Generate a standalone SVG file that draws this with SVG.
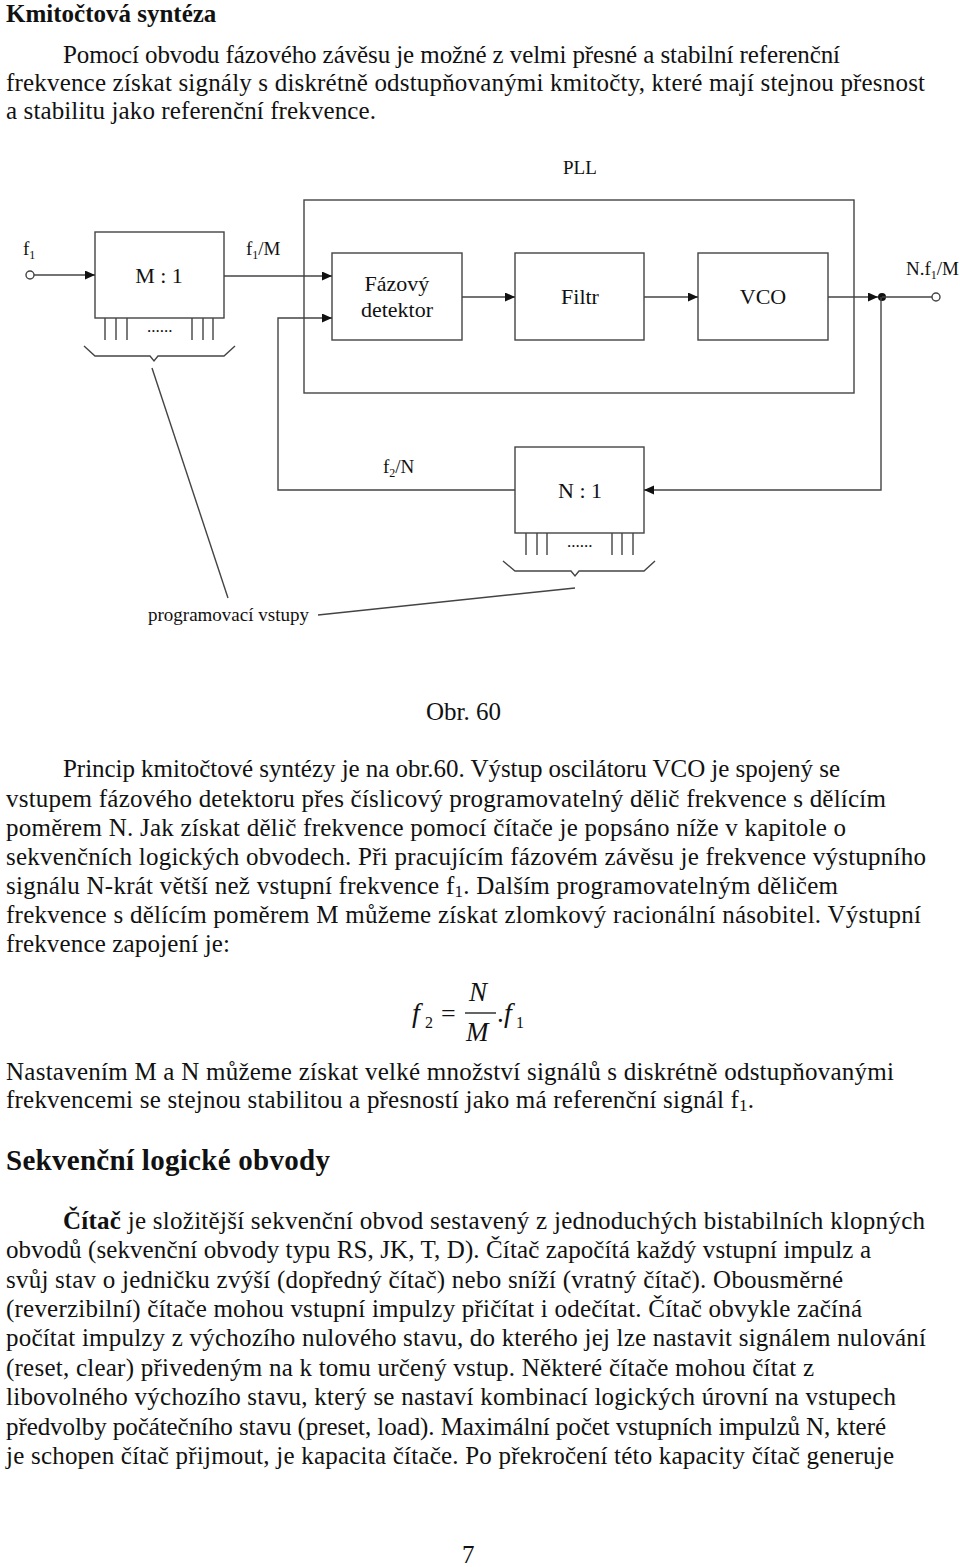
<svg xmlns="http://www.w3.org/2000/svg" width="960" height="1567" viewBox="0 0 960 1567">
<style>
  .t { font-family: "Liberation Serif", "Times New Roman", serif; fill: #111; }
  .body { font-size: 25px; }
  .b { font-weight: bold; }
  .box { fill: none; stroke: #444; stroke-width: 1.4; }
  .ln { fill: none; stroke: #444; stroke-width: 1.4; }
  .lbl { font-size: 22px; text-anchor: middle; }
  .sm { font-size: 19px; }
  .it { font-style: italic; }
</style>
<defs>
  <marker id="arr" markerUnits="userSpaceOnUse" markerWidth="11" markerHeight="10" refX="10" refY="4.5" orient="auto">
    <path d="M0,0 L10,4.5 L0,9 z" fill="#111"/>
  </marker>
</defs>
<rect width="960" height="1567" fill="#fff"/>

<!-- Top text -->
<text class="t body b" x="6" y="22">Kmitočtová syntéza</text>
<text class="t body" x="63" y="63" textLength="777" lengthAdjust="spacing">Pomocí obvodu fázového závěsu je možné z velmi přesné a stabilní referenční</text>
<text class="t body" x="6" y="91" textLength="919" lengthAdjust="spacing">frekvence získat signály s diskrétně odstupňovanými kmitočty, které mají stejnou přesnost</text>
<text class="t body" x="6" y="119" textLength="370" lengthAdjust="spacing">a stabilitu jako referenční frekvence.</text>

<!-- Diagram -->
<g id="pll">
  <rect class="box" x="304" y="200" width="550" height="193"/>
  <text class="t sm" x="563" y="174">PLL</text>
</g>
<g id="input">
  <circle cx="30" cy="275" r="4" fill="#fff" stroke="#444" stroke-width="1.4"/>
  <text class="t sm" x="23" y="255">f<tspan font-size="12" dy="4">1</tspan></text>
</g>
<g id="divM">
  <rect class="box" x="95" y="232" width="129" height="86"/>
  <text class="t lbl" x="159" y="283">M : 1</text>
  <path class="ln" d="M105,318 V340 M116,318 V340 M127,318 V340 M192,318 V340 M203,318 V340 M213,318 V340"/>
  <text class="t" x="147" y="332" font-size="17">......</text>
  <polyline class="ln" points="84,346 95,356 150,356 154,361 158,356 224,356 235,346"/>
</g>
<g id="labelM">
  <text class="t sm" x="246" y="255">f<tspan font-size="12" dy="4">1</tspan><tspan dy="-4">/M</tspan></text>
</g>
<g id="detektor">
  <rect class="box" x="332" y="253" width="130" height="87"/>
  <text class="t lbl" x="397" y="291">Fázový</text>
  <text class="t lbl" x="397" y="317">detektor</text>
</g>
<g id="filtr">
  <rect class="box" x="515" y="253" width="129" height="87"/>
  <text class="t lbl" x="580" y="304">Filtr</text>
</g>
<g id="vco">
  <rect class="box" x="698" y="253" width="130" height="87"/>
  <text class="t lbl" x="763" y="304">VCO</text>
</g>
<g id="output">
  <circle cx="882" cy="297" r="4" fill="#111"/>
  <circle cx="936" cy="297" r="4" fill="#fff" stroke="#444" stroke-width="1.4"/>
  <text class="t sm" x="906" y="275">N.f<tspan font-size="12" dy="4">1</tspan><tspan dy="-4">/M</tspan></text>
</g>
<g id="divN">
  <rect class="box" x="515" y="447" width="129" height="86"/>
  <text class="t lbl" x="580" y="498">N : 1</text>
  <path class="ln" d="M526,533 V555 M537,533 V555 M547,533 V555 M612,533 V555 M622,533 V555 M633,533 V555"/>
  <text class="t" x="567" y="547" font-size="17">......</text>
  <polyline class="ln" points="503,561 515,571 571,571 575,576 579,571 644,571 655,561"/>
</g>
<g id="labelN">
  <text class="t sm" x="383" y="473">f<tspan font-size="12" dy="4">2</tspan><tspan dy="-4">/N</tspan></text>
</g>
<g id="prog">
  <text class="t sm" x="148" y="621">programovací vstupy</text>
</g>
<g id="connectors">
  <line class="ln" x1="34" y1="275" x2="95" y2="275" marker-end="url(#arr)"/>
  <line class="ln" x1="224" y1="276" x2="332" y2="276" marker-end="url(#arr)"/>
  <line class="ln" x1="462" y1="297" x2="515" y2="297" marker-end="url(#arr)"/>
  <line class="ln" x1="644" y1="297" x2="698" y2="297" marker-end="url(#arr)"/>
  <line class="ln" x1="828" y1="297" x2="878" y2="297" marker-end="url(#arr)"/>
  <line class="ln" x1="882" y1="297" x2="932" y2="297"/>
  <polyline class="ln" points="881,297 881,490 644,490" marker-end="url(#arr)"/>
  <polyline class="ln" points="515,490 278,490 278,318 332,318" marker-end="url(#arr)"/>
  <line class="ln" x1="152" y1="368" x2="228" y2="598"/>
  <line class="ln" x1="575" y1="588" x2="318" y2="615"/>
</g>

<!-- Body text -->
<text class="t body" x="426" y="720">Obr. 60</text>
<text class="t body" x="63" y="777" textLength="777" lengthAdjust="spacing">Princip kmitočtové syntézy je na obr.60. Výstup oscilátoru VCO je spojený se</text>
<text class="t body" x="6" y="807" textLength="880" lengthAdjust="spacing">vstupem fázového detektoru přes číslicový programovatelný dělič frekvence s dělícím</text>
<text class="t body" x="6" y="836" textLength="840" lengthAdjust="spacing">poměrem N. Jak získat dělič frekvence pomocí čítače je popsáno níže v kapitole o</text>
<text class="t body" x="6" y="865" textLength="920" lengthAdjust="spacing">sekvenčních logických obvodech. Při pracujícím fázovém závěsu je frekvence výstupního</text>
<text class="t body" x="6" y="894" textLength="832" lengthAdjust="spacing">signálu N-krát větší než vstupní frekvence f<tspan font-size="17" dy="3">1</tspan><tspan dy="-3">. Dalším programovatelným děličem</tspan></text>
<text class="t body" x="6" y="923" textLength="915" lengthAdjust="spacing">frekvence s dělícím poměrem M můžeme získat zlomkový racionální násobitel. Výstupní</text>
<text class="t body" x="6" y="952" textLength="224" lengthAdjust="spacing">frekvence zapojení je:</text>

<g id="formula">
  <text class="t it" x="412" y="1022" font-size="28">f</text>
  <text class="t" x="425" y="1028" font-size="16">2</text>
  <text class="t" x="441" y="1022" font-size="26">=</text>
  <text class="t it" x="469" y="1001" font-size="27">N</text>
  <line x1="465" y1="1013" x2="496" y2="1013" stroke="#111" stroke-width="1.3"/>
  <text class="t it" x="466" y="1041" font-size="27">M</text>
  <text class="t" x="497" y="1022" font-size="27">.</text>
  <text class="t it" x="504" y="1022" font-size="28">f</text>
  <text class="t" x="516" y="1028" font-size="16">1</text>
</g>

<text class="t body" x="6" y="1080" textLength="888" lengthAdjust="spacing">Nastavením M a N můžeme získat velké množství signálů s diskrétně odstupňovanými</text>
<text class="t body" x="6" y="1108" textLength="748" lengthAdjust="spacing">frekvencemi se stejnou stabilitou a přesností jako má referenční signál f<tspan font-size="17" dy="3">1</tspan><tspan dy="-3">.</tspan></text>

<text class="t b" x="6" y="1170" font-size="29" textLength="324" lengthAdjust="spacing">Sekvenční logické obvody</text>

<text class="t body" x="63" y="1229" textLength="862" lengthAdjust="spacing"><tspan font-weight="bold">Čítač</tspan> je složitější sekvenční obvod sestavený z jednoduchých bistabilních klopných</text>
<text class="t body" x="6" y="1258" textLength="865" lengthAdjust="spacing">obvodů (sekvenční obvody typu RS, JK, T, D). Čítač započítá každý vstupní impulz a</text>
<text class="t body" x="6" y="1288" textLength="837" lengthAdjust="spacing">svůj stav o jedničku zvýší (dopředný čítač) nebo sníží (vratný čítač). Obousměrné</text>
<text class="t body" x="6" y="1317" textLength="856" lengthAdjust="spacing">(reverzibilní) čítače mohou vstupní impulzy přičítat i odečítat. Čítač obvykle začíná</text>
<text class="t body" x="6" y="1346" textLength="920" lengthAdjust="spacing">počítat impulzy z výchozího nulového stavu, do kterého jej lze nastavit signálem nulování</text>
<text class="t body" x="6" y="1376" textLength="808" lengthAdjust="spacing">(reset, clear) přivedeným na k tomu určený vstup. Některé čítače mohou čítat z</text>
<text class="t body" x="6" y="1405" textLength="890" lengthAdjust="spacing">libovolného výchozího stavu, který se nastaví kombinací logických úrovní na vstupech</text>
<text class="t body" x="6" y="1435" textLength="880" lengthAdjust="spacing">předvolby počátečního stavu (preset, load). Maximální počet vstupních impulzů N, které</text>
<text class="t body" x="6" y="1464" textLength="888" lengthAdjust="spacing">je schopen čítač přijmout, je kapacita čítače. Po překročení této kapacity čítač generuje</text>

<text class="t body" x="462" y="1563">7</text>
</svg>
